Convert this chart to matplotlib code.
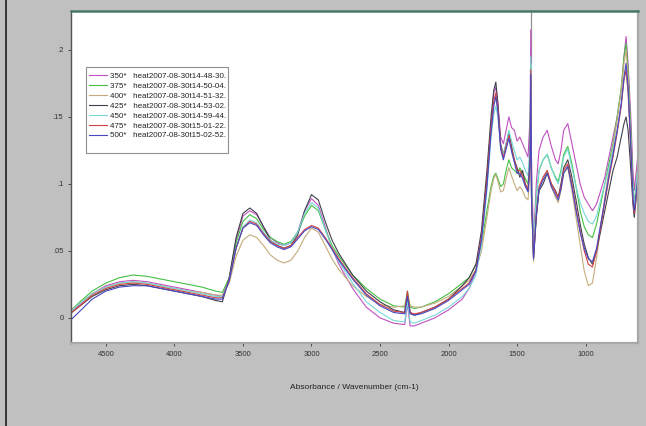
import numpy as np
import matplotlib
matplotlib.use("Agg")
import matplotlib.pyplot as plt
import matplotlib.patches as mpatches

plt.rcParams["font.family"] = ["Liberation Sans", "DejaVu Sans"]

# ─── DATA ────────────────────────────────────────────────────────────────────
wavenumber = [
    4750, 4700, 4600, 4500, 4400, 4300, 4200, 4100, 4000, 3900, 3800, 3700, 3650,
    3600, 3550, 3500, 3450, 3400, 3350, 3300, 3250, 3200, 3150, 3100, 3050, 3000,
    2950, 2900, 2850, 2800, 2700, 2600, 2500, 2400, 2320, 2300, 2280, 2250, 2200,
    2100, 2000, 1900,
    1850, 1800, 1760, 1720, 1690, 1670, 1655, 1640, 1620, 1600, 1580, 1560, 1540,
    1520, 1500, 1480, 1460, 1440, 1420, 1405, 1400, 1395, 1380, 1360, 1340, 1310,
    1280, 1250, 1220, 1200, 1180, 1160, 1130, 1100, 1070, 1040, 1010, 980, 950,
    920, 890, 860, 830, 800, 770, 740, 720, 705, 690, 670, 655, 645, 630, 620,
]

abs_350 = [
    0.005, 0.009, 0.018, 0.024, 0.027, 0.028, 0.027, 0.025, 0.023, 0.021, 0.019, 0.017, 0.016,
    0.030, 0.058, 0.076, 0.080, 0.077, 0.068, 0.060, 0.056, 0.054, 0.056, 0.064, 0.080, 0.089,
    0.084, 0.068, 0.052, 0.040, 0.022, 0.008, 0.000, -0.004, -0.005, 0.010, -0.006, -0.006, -0.004,
    0.000, 0.006, 0.014,
    0.022, 0.035, 0.060, 0.105, 0.145, 0.168, 0.172, 0.160, 0.135, 0.130, 0.140, 0.150, 0.142,
    0.140, 0.132, 0.135, 0.130, 0.125, 0.120, 0.150, 0.215, 0.120, 0.055, 0.100, 0.125, 0.135,
    0.140, 0.128, 0.118, 0.115, 0.125, 0.140, 0.145, 0.130, 0.115, 0.100, 0.090, 0.085, 0.080,
    0.085, 0.095, 0.105, 0.120, 0.135, 0.150, 0.170, 0.195, 0.210, 0.190, 0.150, 0.110, 0.095, 0.110, 0.120,
]
abs_375 = [
    0.006, 0.011, 0.020, 0.026, 0.030, 0.032, 0.031, 0.029, 0.027, 0.025, 0.023, 0.020, 0.019,
    0.030, 0.056, 0.072, 0.077, 0.074, 0.066, 0.060, 0.057, 0.055, 0.057, 0.064, 0.076, 0.084,
    0.080, 0.066, 0.054, 0.046, 0.032, 0.022, 0.014, 0.009, 0.008, 0.020, 0.008, 0.007, 0.008,
    0.012, 0.018, 0.026,
    0.030, 0.040, 0.055, 0.080, 0.098, 0.106, 0.108, 0.104, 0.098, 0.100, 0.110, 0.118, 0.112,
    0.110, 0.108, 0.112, 0.108, 0.104, 0.100, 0.125, 0.190, 0.100, 0.050, 0.090, 0.110, 0.118,
    0.122, 0.112, 0.105, 0.102, 0.110, 0.122, 0.128, 0.115, 0.098, 0.080, 0.068, 0.062, 0.060,
    0.070, 0.085, 0.100, 0.115, 0.130, 0.150, 0.172, 0.195, 0.205, 0.185, 0.140, 0.100, 0.085, 0.100, 0.112,
]
abs_400 = [
    0.006, 0.010, 0.018, 0.023, 0.026, 0.027, 0.026, 0.024, 0.022, 0.020, 0.019, 0.017, 0.017,
    0.026, 0.046, 0.058, 0.062, 0.060, 0.054, 0.047, 0.043, 0.041, 0.043, 0.050, 0.060, 0.067,
    0.064, 0.054, 0.044, 0.036, 0.024, 0.016, 0.010, 0.008, 0.009, 0.014, 0.009, 0.008, 0.008,
    0.011, 0.016, 0.024,
    0.028, 0.036, 0.050, 0.075, 0.095, 0.104, 0.107, 0.102, 0.094, 0.095, 0.104, 0.112, 0.106,
    0.100, 0.095, 0.098, 0.095, 0.090, 0.088, 0.110, 0.175, 0.090, 0.042, 0.075, 0.095, 0.105,
    0.110, 0.098, 0.090, 0.086, 0.095, 0.108, 0.112, 0.095, 0.075, 0.055, 0.035, 0.024, 0.026,
    0.045, 0.068, 0.090, 0.110, 0.128, 0.148, 0.170, 0.190, 0.200, 0.180, 0.130, 0.090, 0.078, 0.095, 0.105,
]
abs_425 = [
    0.004, 0.008, 0.016, 0.021, 0.024, 0.025, 0.024, 0.022, 0.020, 0.018, 0.016, 0.013, 0.012,
    0.030, 0.060, 0.078, 0.082, 0.078, 0.068, 0.058, 0.054, 0.052, 0.054, 0.062, 0.080, 0.092,
    0.088, 0.072, 0.058, 0.048, 0.032, 0.020, 0.012, 0.006, 0.004, 0.016, 0.004, 0.002, 0.004,
    0.008, 0.014, 0.024,
    0.030, 0.040, 0.065, 0.110, 0.150, 0.170, 0.176, 0.160, 0.130, 0.122, 0.130, 0.138, 0.128,
    0.118, 0.112, 0.105, 0.110, 0.100, 0.095, 0.120, 0.180, 0.090, 0.045, 0.075, 0.095, 0.100,
    0.108, 0.100, 0.095, 0.090, 0.100, 0.112, 0.118, 0.105, 0.088, 0.070, 0.055, 0.045, 0.040,
    0.050, 0.065, 0.080, 0.095, 0.110, 0.120, 0.135, 0.145, 0.150, 0.140, 0.110, 0.085, 0.075, 0.090, 0.100,
]
abs_450 = [
    0.005, 0.010, 0.018, 0.023, 0.026, 0.027, 0.026, 0.024, 0.022, 0.020, 0.018, 0.016, 0.016,
    0.028, 0.052, 0.068, 0.073, 0.071, 0.064, 0.058, 0.055, 0.054, 0.056, 0.064, 0.078, 0.086,
    0.082, 0.066, 0.052, 0.042, 0.026, 0.012, 0.004, -0.002, -0.003, 0.012, -0.003, -0.004, -0.002,
    0.002, 0.008, 0.016,
    0.022, 0.032, 0.055, 0.095, 0.135, 0.152, 0.158, 0.150, 0.128, 0.122, 0.130, 0.140, 0.132,
    0.125, 0.118, 0.120, 0.116, 0.110, 0.106, 0.130, 0.195, 0.105, 0.050, 0.090, 0.110, 0.118,
    0.122, 0.112, 0.104, 0.100, 0.108, 0.120, 0.126, 0.112, 0.098, 0.086, 0.078, 0.072, 0.070,
    0.076, 0.088, 0.100, 0.112, 0.125, 0.140, 0.160, 0.178, 0.185, 0.170, 0.130, 0.095, 0.085, 0.100, 0.110,
]
abs_475 = [
    0.004, 0.008, 0.017, 0.022, 0.025, 0.026, 0.025, 0.023, 0.021, 0.019, 0.017, 0.015, 0.015,
    0.028, 0.052, 0.067, 0.072, 0.070, 0.063, 0.057, 0.054, 0.052, 0.054, 0.060, 0.066, 0.069,
    0.067, 0.060, 0.052, 0.044, 0.030, 0.018, 0.010, 0.005, 0.004, 0.020, 0.004, 0.003, 0.004,
    0.008, 0.014, 0.022,
    0.026, 0.036, 0.060, 0.102, 0.142, 0.162, 0.168, 0.156, 0.128, 0.120, 0.128, 0.136, 0.126,
    0.118, 0.110, 0.110, 0.106, 0.100, 0.096, 0.120, 0.185, 0.095, 0.045, 0.078, 0.098, 0.105,
    0.110, 0.100, 0.094, 0.090, 0.098, 0.110, 0.115, 0.100, 0.082, 0.065, 0.050, 0.040, 0.038,
    0.050, 0.068, 0.086, 0.104, 0.120, 0.138, 0.158, 0.178, 0.185, 0.168, 0.125, 0.088, 0.078, 0.092, 0.102,
]
abs_500 = [
    -0.001, 0.004, 0.014, 0.020, 0.023, 0.024, 0.024, 0.022, 0.020, 0.018, 0.016, 0.014, 0.014,
    0.028, 0.052, 0.067, 0.071, 0.069, 0.062, 0.056, 0.053, 0.051, 0.053, 0.059, 0.065, 0.068,
    0.066, 0.059, 0.051, 0.043, 0.029, 0.017, 0.009, 0.004, 0.003, 0.016, 0.003, 0.002, 0.003,
    0.007, 0.013, 0.021,
    0.025, 0.035, 0.058, 0.098, 0.138, 0.158, 0.165, 0.154, 0.126, 0.118, 0.126, 0.134, 0.124,
    0.116, 0.108, 0.108, 0.104, 0.098, 0.094, 0.118, 0.182, 0.092, 0.044, 0.076, 0.096, 0.103,
    0.108, 0.098, 0.092, 0.088, 0.096, 0.108, 0.113, 0.098, 0.080, 0.064, 0.052, 0.044, 0.042,
    0.052, 0.070, 0.088, 0.106, 0.122, 0.140, 0.160, 0.180, 0.190, 0.172, 0.128, 0.090, 0.080, 0.094, 0.104,
]

series = [abs_350, abs_375, abs_400, abs_425, abs_450, abs_475, abs_500]
labels = [
    "350*   heat2007-08-30t14-48-30.",
    "375*   heat2007-08-30t14-50-04.",
    "400*   heat2007-08-30t14-51-32.",
    "425*   heat2007-08-30t14-53-02.",
    "450*   heat2007-08-30t14-59-44.",
    "475*   heat2007-08-30t15-01-22.",
    "500*   heat2007-08-30t15-02-52.",
]
colors = ["#c050c0", "#44c044", "#c4ac7c", "#40404c", "#78d8d8", "#d04444", "#4848c4"]

spike_wn = 1400
x_ticks = [4500, 4000, 3500, 3000, 2500, 2000, 1500, 1000]
y_ticks = [0, 0.05, 0.1, 0.15, 0.2]
y_tick_labels = ["0", ".05", ".1", ".15", ".2"]

# ─── PLOT ────────────────────────────────────────────────────────────────────
BG = "#c0c0c0"
fig = plt.figure(figsize=(6.46, 4.26), dpi=100)
fig.patch.set_facecolor(BG)
ax = fig.add_axes([0.110, 0.195, 0.878, 0.779])
ax.set_facecolor("white")

ymin, ymax = -0.0187, 0.229

# grey marker line above the sharp band
ax.vlines(spike_wn, 0.19, ymax, color="#909090", lw=0.9, zorder=1)
for vals, col, lab in zip(series, colors, labels):
    ax.plot(wavenumber, vals, color=col, lw=0.8, label=lab, zorder=2)

ax.set_xlim(4754, 616)
ax.set_ylim(ymin, ymax)
ax.set_xticks(x_ticks)
ax.set_yticks(y_ticks)
ax.set_yticklabels(y_tick_labels)
ax.tick_params(axis="both", labelsize=5.5, colors="#333333", length=2.5, width=0.6, pad=3)

ax.spines["top"].set_color("#4a7868")
ax.spines["top"].set_linewidth(1.8)
ax.spines["left"].set_color("#555555")
ax.spines["left"].set_linewidth(1.0)
ax.spines["bottom"].set_color("#a8a8a8")
ax.spines["bottom"].set_linewidth(1.6)
ax.spines["right"].set_color("#a8a8a8")
ax.spines["right"].set_linewidth(1.6)

ax.set_xlabel("Absorbance / Wavenumber (cm-1)", fontsize=6, color="#222222", labelpad=19)

# legend box (taller than its entries, as in the original)
box = mpatches.Rectangle((0.026, 0.572), 0.251, 0.259, transform=ax.transAxes,
                         facecolor="white", edgecolor="#909090", lw=0.8, zorder=3)
ax.add_patch(box)
leg = ax.legend(loc="upper left", bbox_to_anchor=(0.022, 0.832), frameon=False,
                fontsize=5.8, handlelength=2.2, handletextpad=0.4,
                labelspacing=0.28, borderpad=0.2)
leg.set_zorder(4)
for t in leg.get_texts():
    t.set_color("#222222")

# dark border line at left edge of the window
fig.add_artist(plt.Line2D([0.009, 0.009], [0, 1], color="#202020", lw=1.2,
                          transform=fig.transFigure))

fig.savefig("out.png", dpi=100, facecolor=fig.get_facecolor())
